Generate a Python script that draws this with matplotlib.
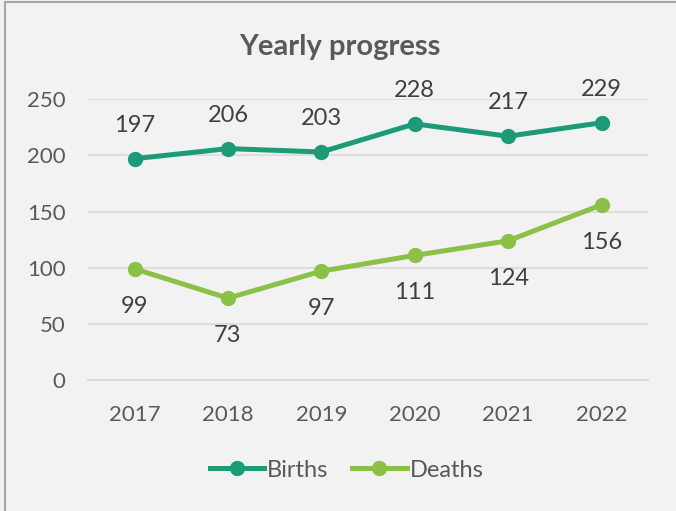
import matplotlib.pyplot as plt
from matplotlib.lines import Line2D

years = ['2017', '2018', '2019', '2020', '2021', '2022']
births = [197, 206, 203, 228, 217, 229]
deaths = [99, 73, 97, 111, 124, 156]

births_color = '#1b9b77'
deaths_color = '#8bc146'
text_color = '#595959'
grid_color = '#d9d9d9'
bg = '#f2f2f2'

plt.rcParams['font.family'] = ['Lato', 'DejaVu Sans']

fig = plt.figure(figsize=(6.76, 5.11), dpi=100, facecolor=bg)
ax = fig.add_axes([0.130, 0.256, 0.829, 0.550], facecolor=bg)

x = range(len(years))
ax.plot(x, births, color=births_color, lw=3.6, marker='o', ms=10, label='Births', zorder=3)
ax.plot(x, deaths, color=deaths_color, lw=3.6, marker='o', ms=10, label='Deaths', zorder=3)

for i, v in enumerate(births):
    ax.annotate(str(v), (i, v), xytext=(0, 24), textcoords='offset points',
                ha='center', va='center', fontsize=17, color='#404040')
for i, v in enumerate(deaths):
    ax.annotate(str(v), (i, v), xytext=(0, -27), textcoords='offset points',
                ha='center', va='center', fontsize=17, color='#404040')

ax.set_xlim(-0.5, len(years) - 0.5)
ax.set_ylim(0, 250)
ax.set_yticks([0, 50, 100, 150, 200, 250])
ax.set_xticks(list(x))
ax.set_xticklabels(years)
ax.yaxis.grid(True, color=grid_color, lw=1.2)
ax.set_axisbelow(True)
for s in ['top', 'right', 'left']:
    ax.spines[s].set_visible(False)
ax.spines['bottom'].set_color(grid_color)
ax.spines['bottom'].set_linewidth(1.2)
ax.tick_params(axis='both', length=0, labelsize=16, labelcolor=text_color)
ax.tick_params(axis='x', pad=18)
ax.tick_params(axis='y', pad=16)

fig.text(0.503, 0.908, 'Yearly progress', ha='center', va='center',
         fontsize=21, fontweight='bold', color=text_color)

handles = [Line2D([0], [0], color=births_color, lw=3.6, marker='o', ms=10),
           Line2D([0], [0], color=deaths_color, lw=3.6, marker='o', ms=10)]
fig.legend(handles, ['Births', 'Deaths'], loc='center', bbox_to_anchor=(0.513, 0.08),
           ncol=2, frameon=False, fontsize=17, labelcolor=text_color,
           handlelength=2.3, handletextpad=0.15, columnspacing=1.0,
           borderpad=0, borderaxespad=0)

# chart border (left and top edges visible)
fig.add_artist(Line2D([0.007, 0.007], [0, 0.996], transform=fig.transFigure, color='#a6a6a6', lw=1.5))
fig.add_artist(Line2D([0.007, 1], [0.996, 0.996], transform=fig.transFigure, color='#a6a6a6', lw=1.5))

fig.savefig('out.png', dpi=100, facecolor=bg)
